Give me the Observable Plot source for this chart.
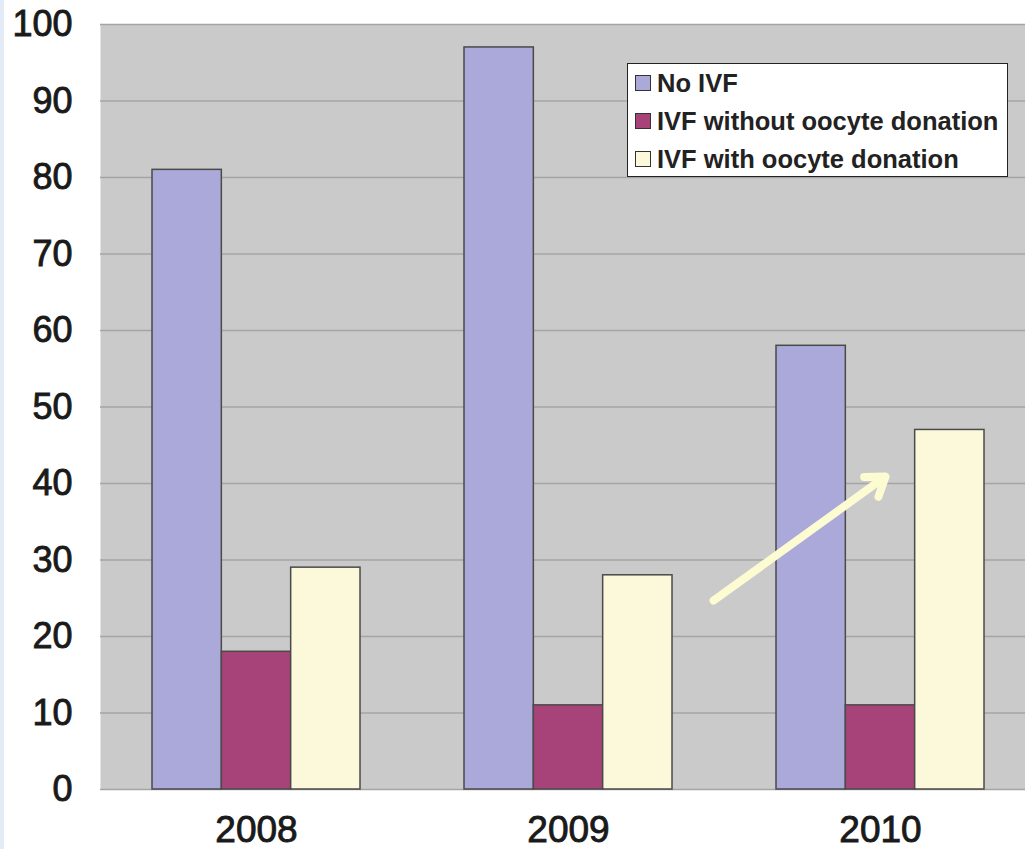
<!DOCTYPE html>
<html>
<head>
<meta charset="utf-8">
<script src="https://cdn.jsdelivr.net/npm/d3@7"></script>
<script src="https://cdn.jsdelivr.net/npm/@observablehq/plot@0.6"></script>
<style>
  html, body { margin: 0; padding: 0; background: #ffffff; }
  #wrap { position: relative; width: 1025px; height: 849px; overflow: hidden; font-family: "Liberation Sans", Arial, sans-serif; }
  #edge { position: absolute; left: 0; top: 0; width: 4px; height: 849px; background: #e3ebf7; }
  #legend { position: absolute; left: 627px; top: 63px; width: 379px; height: 112px; background: #ffffff; border: 1.5px solid #222; box-sizing: content-box; }
  .item { position: absolute; left: 7px; display: flex; align-items: center; font-size: 25.5px; font-weight: bold; color: #222; white-space: nowrap; line-height: 30px; }
  .sw { width: 14px; height: 14px; border: 1.5px solid #333; margin-right: 6px; }
  #chart g[aria-label$="tick label"] text { stroke: #1a1a1a; stroke-width: 0.9px; }
</style>
</head>
<body>
<div id="wrap">
  <div id="chart"></div>
  <div id="edge"></div>
  <div id="legend"></div>
</div>
<script>
// ---- data ----
const years = ["2008", "2009", "2010"];
const series = ["No IVF", "IVF without oocyte donation", "IVF with oocyte donation"];
const noIVF = [81, 97, 58];
const ivfWithout = [18, 11, 11];
const ivfWith = [29, 28, 47];
const yTicks = [0, 10, 20, 30, 40, 50, 60, 70, 80, 90, 100];
const colors = ["#aba9d9", "#a8437a", "#fcf9da"];
// annotation arrow (x in year-index units, y in data units)
const arrowData = [{x1: 1.465, y1: 24.7, x2: 2.016, y2: 40.9}];

// ---- build table ----
const valuesBySeries = [noIVF, ivfWithout, ivfWith];
const rows = [];
years.forEach((yr, i) => {
  series.forEach((s, j) => {
    rows.push({year: yr, series: s, value: valuesBySeries[j][i], i, j});
  });
});
const groupWidth = 2 / 3;
const barWidth = groupWidth / series.length;

const chart = Plot.plot({
  width: 1025,
  height: 849,
  marginLeft: 100,
  marginRight: 0,
  marginTop: 24,
  marginBottom: 60,
  style: {fontFamily: "'Liberation Sans', Arial, sans-serif", background: "transparent", overflow: "visible"},
  x: {domain: [-0.5, 2.5], range: [100, 1036]},
  y: {domain: [0, 100]},
  color: {domain: series, range: colors},
  marks: [
    Plot.frame({fill: "#cbcaca", stroke: null}),
    Plot.gridY(yTicks, {stroke: "#a5a5a5", strokeOpacity: 1, strokeWidth: 1.5}),
    Plot.rectY(rows, {
      x1: d => d.i - groupWidth / 2 + d.j * barWidth,
      x2: d => d.i - groupWidth / 2 + (d.j + 1) * barWidth,
      y1: 0,
      y2: "value",
      fill: "series",
      stroke: "#4a4a4a",
      strokeWidth: 1.5
    }),
    Plot.axisY(yTicks, {tickSize: 0, tickPadding: 28, fontSize: 36, fill: "#1a1a1a", label: null}),
    Plot.axisX(years.map((_, i) => i), {tickSize: 0, tickPadding: 26, fontSize: 37, fill: "#1a1a1a", tickFormat: i => years[i], label: null}),
    Plot.arrow(arrowData, {x1: "x1", y1: "y1", x2: "x2", y2: "y2", stroke: "#fdfbd2", strokeWidth: 8, headLength: 4, headAngle: 70})
  ]
});
document.getElementById("chart").appendChild(chart);

// ---- legend ----
const legend = document.getElementById("legend");
series.forEach((s, j) => {
  const it = document.createElement("div");
  it.className = "item";
  it.style.top = (4 + j * 38) + "px";
  const sw = document.createElement("div");
  sw.className = "sw";
  sw.style.background = colors[j];
  const t = document.createElement("span");
  t.textContent = s;
  it.appendChild(sw);
  it.appendChild(t);
  legend.appendChild(it);
});
</script>
</body>
</html>
